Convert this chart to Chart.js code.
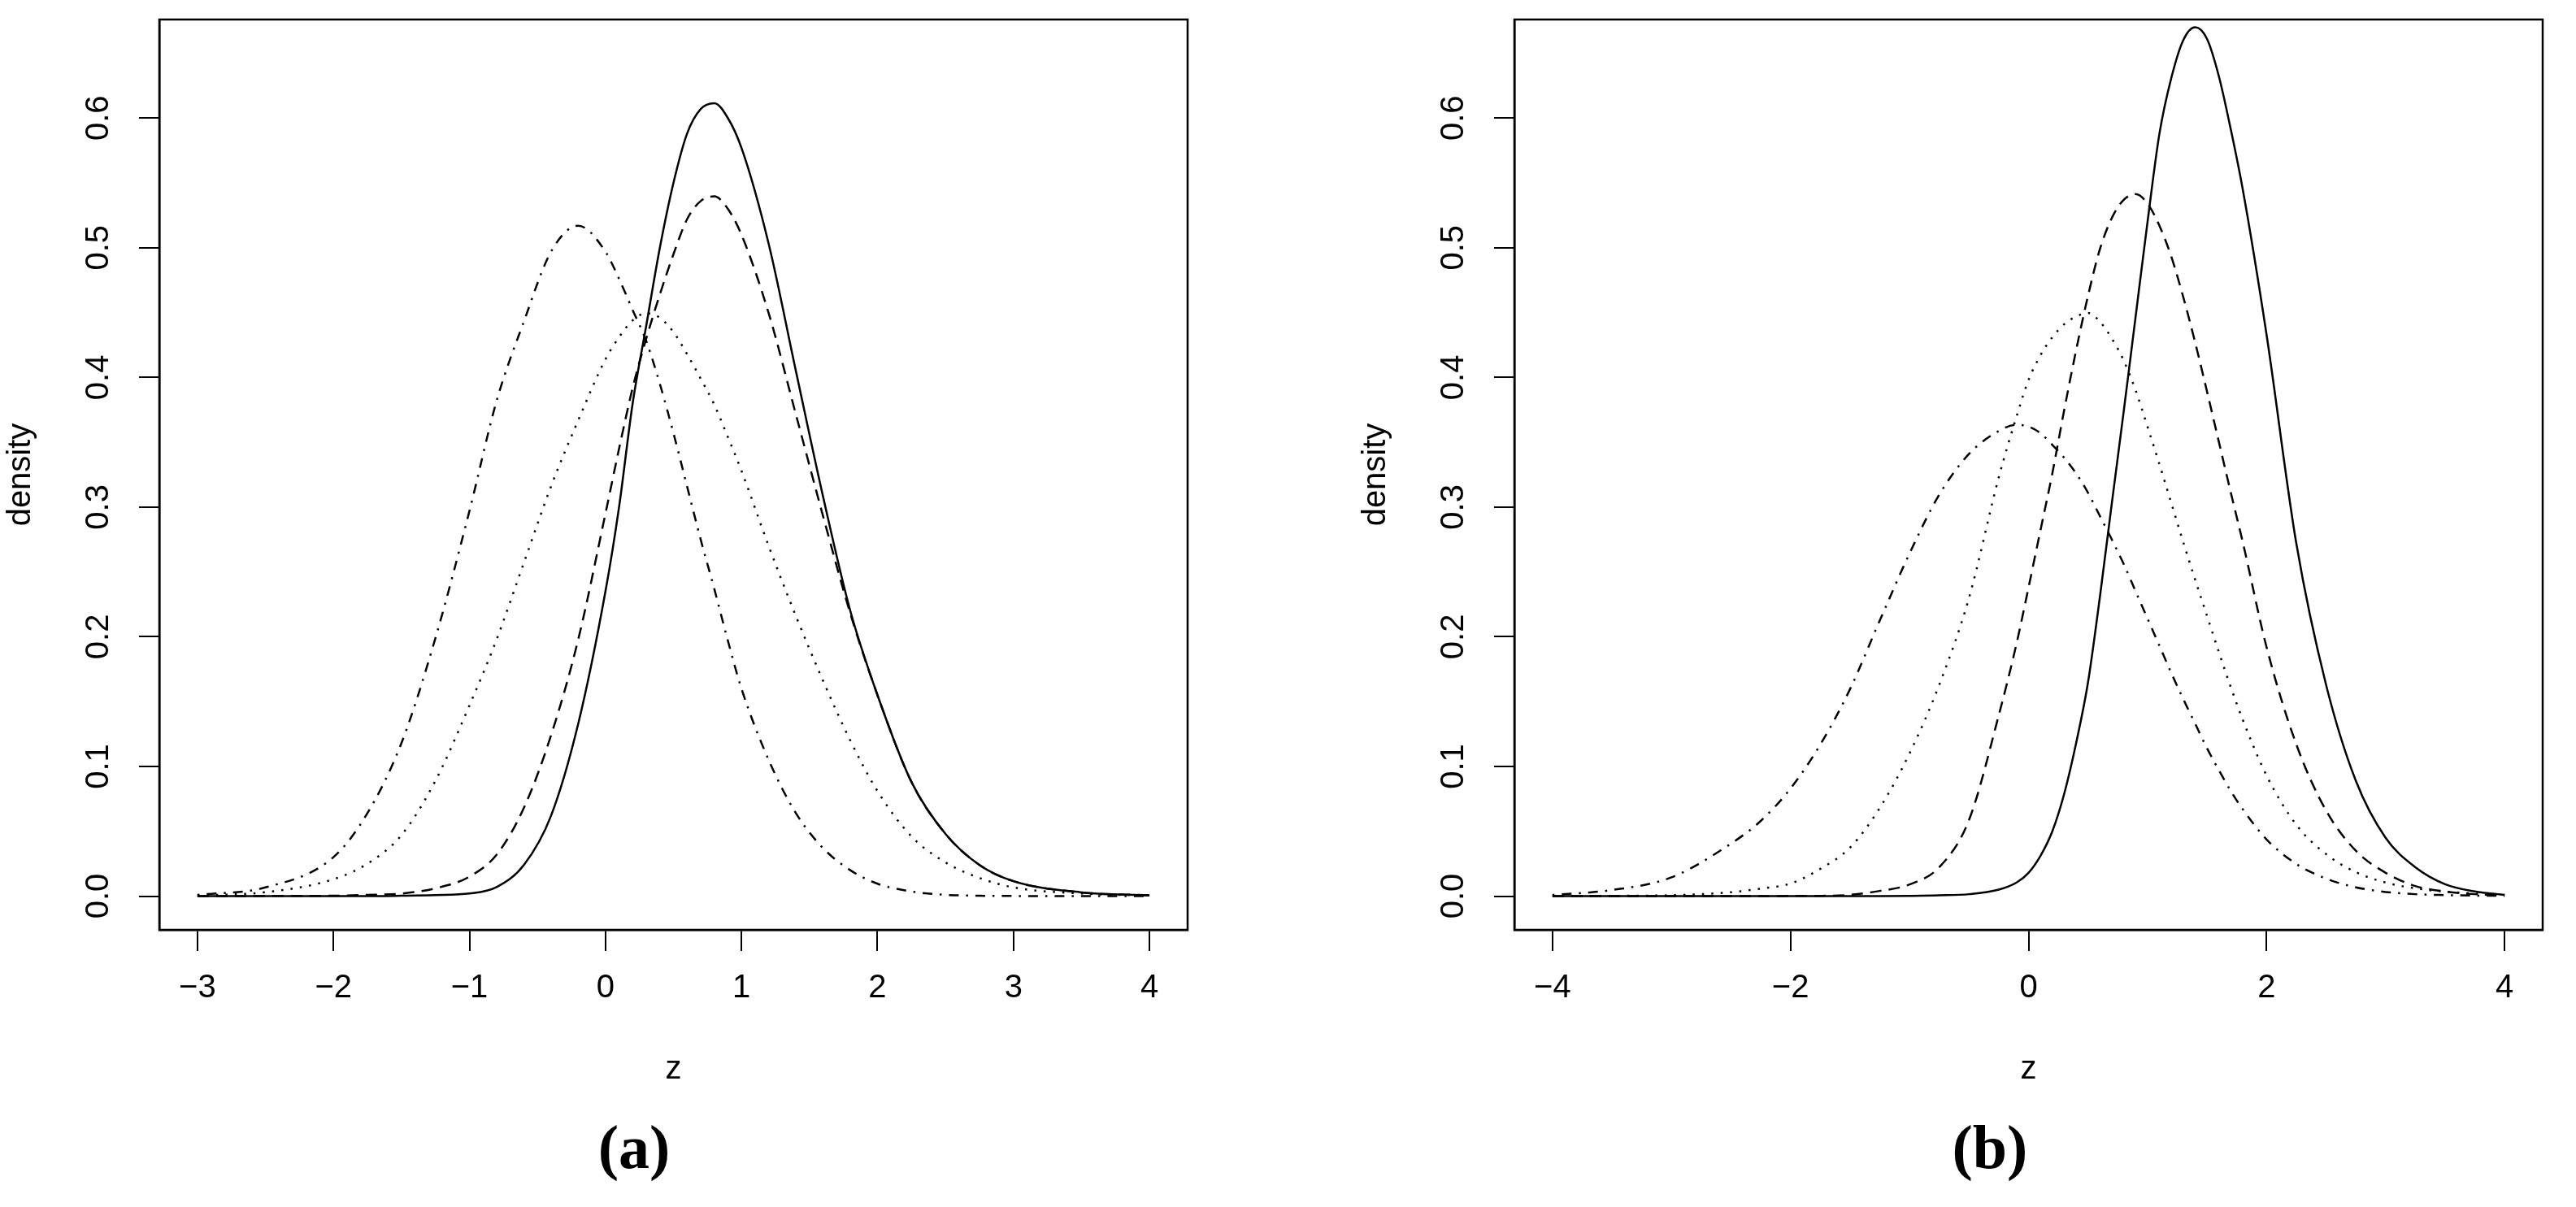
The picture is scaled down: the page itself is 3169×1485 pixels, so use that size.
<!DOCTYPE html>
<html>
<head>
<meta charset="utf-8">
<script src="https://cdn.jsdelivr.net/npm/chart.js@4.4.1/dist/chart.umd.min.js"></script>
<style>
    html, body { margin: 0; padding: 0; background: #fff; }
    body { position: relative; width: 3169px; height: 1485px; overflow: hidden; }
    canvas { position: absolute; top: 0; }
    #chartA { left: 0; }
    #chartB { left: 1667px; }
    .panel-label {
        position: absolute;
        top: 1373px;
        width: 400px;
        text-align: center;
        font: bold 76px "Liberation Serif", "Times New Roman", serif;
        line-height: 1;
        color: #000;
    }
</style>
</head>
<body>
<canvas id="chartA" width="1667" height="1485"></canvas>
<canvas id="chartB" width="1502" height="1485"></canvas>
<div class="panel-label" style="left:580px">(a)</div>
<div class="panel-label" style="left:2248px">(b)</div>
<script>
// panel (a)
const zA = [-3, -2.5, -2, -1.75, -1.5, -1.25, -1, -0.8, -0.6, -0.4, -0.2, 0, 0.1, 0.2, 0.3, 0.4, 0.5, 0.6, 0.7, 0.8, 0.9, 1, 1.2, 1.4, 1.6, 1.8, 2, 2.25, 2.5, 2.75, 3, 3.5, 4];
const solidA = [0, 0, 0, 0, 0.0003, 0.0008, 0.002, 0.007, 0.024, 0.062, 0.133, 0.235, 0.300, 0.380, 0.440, 0.500, 0.550, 0.588, 0.607, 0.6115, 0.600, 0.577, 0.503, 0.405, 0.308, 0.220, 0.155, 0.088, 0.048, 0.024, 0.0115, 0.0029, 0.0006];
const dashedA = [0, 0.0001, 0.0003, 0.001, 0.002, 0.006, 0.015, 0.032, 0.068, 0.124, 0.198, 0.295, 0.345, 0.392, 0.430, 0.464, 0.495, 0.522, 0.536, 0.5396, 0.530, 0.510, 0.4495, 0.3715, 0.293, 0.218, 0.155, 0.088, 0.048, 0.024, 0.0115, 0.0029, 0.0006];
const dottedA = [0.0005, 0.003, 0.013, 0.025, 0.047, 0.089, 0.147, 0.198, 0.257, 0.316, 0.367, 0.414, 0.431, 0.444, 0.4495, 0.446, 0.435, 0.418, 0.399, 0.379, 0.354, 0.328, 0.270, 0.216, 0.166, 0.120, 0.081, 0.046, 0.026, 0.014, 0.0067, 0.002, 0.0005];
const dotdashA = [0.001, 0.0067, 0.030, 0.064, 0.118, 0.199, 0.297, 0.382, 0.443, 0.497, 0.517, 0.497, 0.476, 0.452, 0.428, 0.395, 0.357, 0.316, 0.275, 0.237, 0.197, 0.160, 0.105, 0.064, 0.037, 0.020, 0.0096, 0.0036, 0.001, 0.0003, 0.0001, 0, 0];
const xTicksA = [-3, -2, -1, 0, 1, 2, 3, 4];
const xLimA = [-3.28, 4.28];

// panel (b)
const zB = [-4, -3.5, -3, -2.5, -2.25, -2, -1.75, -1.5, -1.25, -1, -0.75, -0.5, -0.25, -0.1, 0, 0.1, 0.2, 0.3, 0.4, 0.5, 0.6, 0.7, 0.8, 0.9, 1, 1.1, 1.2, 1.3, 1.4, 1.5, 1.6, 1.7, 1.8, 2, 2.25, 2.5, 2.75, 3, 3.25, 3.5, 3.75, 4];
const solidB = [0, 0, 0, 0, 0, 0, 0, 0, 0, 0.0002, 0.0006, 0.0015, 0.005, 0.0105, 0.018, 0.031, 0.050, 0.079, 0.118, 0.165, 0.231, 0.303, 0.374, 0.447, 0.520, 0.588, 0.631, 0.660, 0.670, 0.661, 0.632, 0.591, 0.545, 0.433, 0.272, 0.163, 0.089, 0.045, 0.0223, 0.0092, 0.0036, 0.0009];
const dashedB = [0, 0, 0, 0, 0, 0.0001, 0.0002, 0.001, 0.004, 0.009, 0.0223, 0.0588, 0.1395, 0.195, 0.238, 0.282, 0.326, 0.375, 0.421, 0.463, 0.499, 0.523, 0.537, 0.5414, 0.534, 0.517, 0.493, 0.462, 0.427, 0.389, 0.350, 0.311, 0.273, 0.192, 0.117, 0.066, 0.035, 0.018, 0.0078, 0.0036, 0.0015, 0.0008];
const dottedB = [0.0001, 0.0002, 0.0007, 0.003, 0.0058, 0.0097, 0.021, 0.0374, 0.068, 0.110, 0.163, 0.230, 0.323, 0.370, 0.398, 0.417, 0.431, 0.441, 0.447, 0.4497, 0.443, 0.430, 0.413, 0.390, 0.362, 0.333, 0.303, 0.273, 0.244, 0.216, 0.188, 0.161, 0.136, 0.093, 0.055, 0.0324, 0.0185, 0.0105, 0.006, 0.0035, 0.002, 0.001];
const dotdashB = [0.0009, 0.0047, 0.0145, 0.0405, 0.058, 0.083, 0.1168, 0.1596, 0.2125, 0.2642, 0.3096, 0.341, 0.3587, 0.3635, 0.362, 0.357, 0.348, 0.338, 0.326, 0.311, 0.293, 0.275, 0.256, 0.235, 0.214, 0.193, 0.172, 0.152, 0.133, 0.114, 0.097, 0.081, 0.067, 0.0437, 0.0248, 0.0135, 0.0068, 0.0032, 0.0015, 0.0008, 0.0004, 0.0002];
const xTicksB = [-4, -2, 0, 2, 4];
const xLimB = [-4.32, 4.32];

const yTicks = [0, 0.1, 0.2, 0.3, 0.4, 0.5, 0.6];
const yLim = [-0.026, 0.676];

document.addEventListener('DOMContentLoaded', () => {
    Chart.defaults.font.family = '"Liberation Sans", Arial, sans-serif';
    Chart.defaults.color = '#000';

    const dashes = {
        solid: [],
        dashed: [14, 9],
        dotted: [2.5, 9],
        dotdash: [2.5, 9, 12, 9]
    };

    // box round the plot region and the R-style upright y tick labels
    const frame = {
        id: 'frame',
        afterDraw(chart) {
            const { ctx, chartArea: a } = chart;
            const y = chart.scales.y;
            ctx.save();
            ctx.strokeStyle = '#000';
            ctx.lineWidth = 2.5;
            ctx.strokeRect(a.left, a.top, a.right - a.left, a.bottom - a.top);
            ctx.font = '40px "Liberation Sans", Arial, sans-serif';
            ctx.fillStyle = '#000';
            ctx.textAlign = 'center';
            ctx.textBaseline = 'middle';
            yTicks.forEach(v => {
                ctx.save();
                ctx.translate(a.left - 74, y.getPixelForValue(v));
                ctx.rotate(-Math.PI / 2);
                ctx.fillText(v.toFixed(1), 0, 0);
                ctx.restore();
            });
            ctx.restore();
        }
    };

    const makeChart = (id, zs, curves, xTicks, xLim, rightPad) => {
        const ctx = document.getElementById(id).getContext('2d');
        return new Chart(ctx, {
            type: 'line',
            data: {
                datasets: curves.map(c => ({
                    data: zs.map((z, i) => ({ x: z, y: c.values[i] })),
                    borderColor: '#000',
                    borderWidth: 2.5,
                    borderDash: dashes[c.style],
                    pointRadius: 0,
                    fill: false,
                    cubicInterpolationMode: 'monotone'
                }))
            },
            options: {
                responsive: false,
                animation: false,
                events: [],
                layout: { padding: { left: 0, right: rightPad, top: 24, bottom: 0 } },
                plugins: { legend: { display: false }, tooltip: { enabled: false } },
                scales: {
                    x: {
                        type: 'linear',
                        position: 'bottom',
                        min: xLim[0],
                        max: xLim[1],
                        afterBuildTicks: s => { s.ticks = xTicks.map(value => ({ value })); },
                        afterFit: s => { s.height = 341; },
                        ticks: {
                            autoSkip: false,
                            maxRotation: 0,
                            padding: 22,
                            font: { size: 40 },
                            color: '#000',
                            callback: v => String(v).replace('-', '\u2212')
                        },
                        grid: { drawOnChartArea: false, drawTicks: true, tickLength: 26, color: '#000', lineWidth: 2 },
                        border: { display: true, color: '#000', width: 2.5 },
                        title: { display: true, text: 'z', font: { size: 40 }, color: '#000', padding: { top: 0, bottom: 145 } }
                    },
                    y: {
                        type: 'linear',
                        position: 'left',
                        min: yLim[0],
                        max: yLim[1],
                        afterBuildTicks: s => { s.ticks = yTicks.map(value => ({ value })); },
                        afterFit: s => { s.width = 196; },
                        ticks: { display: false },
                        grid: { drawOnChartArea: false, drawTicks: true, tickLength: 25, color: '#000', lineWidth: 2 },
                        border: { display: true, color: '#000', width: 2.5 },
                        title: { display: true, text: 'density', font: { size: 40 }, color: '#000', padding: { top: 2, bottom: 0 } }
                    }
                }
            },
            plugins: [frame]
        });
    };

    makeChart('chartA', zA, [
        { values: solidA, style: 'solid' },
        { values: dashedA, style: 'dashed' },
        { values: dottedA, style: 'dotted' },
        { values: dotdashA, style: 'dotdash' }
    ], xTicksA, xLimA, 206);

    makeChart('chartB', zB, [
        { values: solidB, style: 'solid' },
        { values: dashedB, style: 'dashed' },
        { values: dottedB, style: 'dotted' },
        { values: dotdashB, style: 'dotdash' }
    ], xTicksB, xLimB, 41);
});
</script>
</body>
</html>
